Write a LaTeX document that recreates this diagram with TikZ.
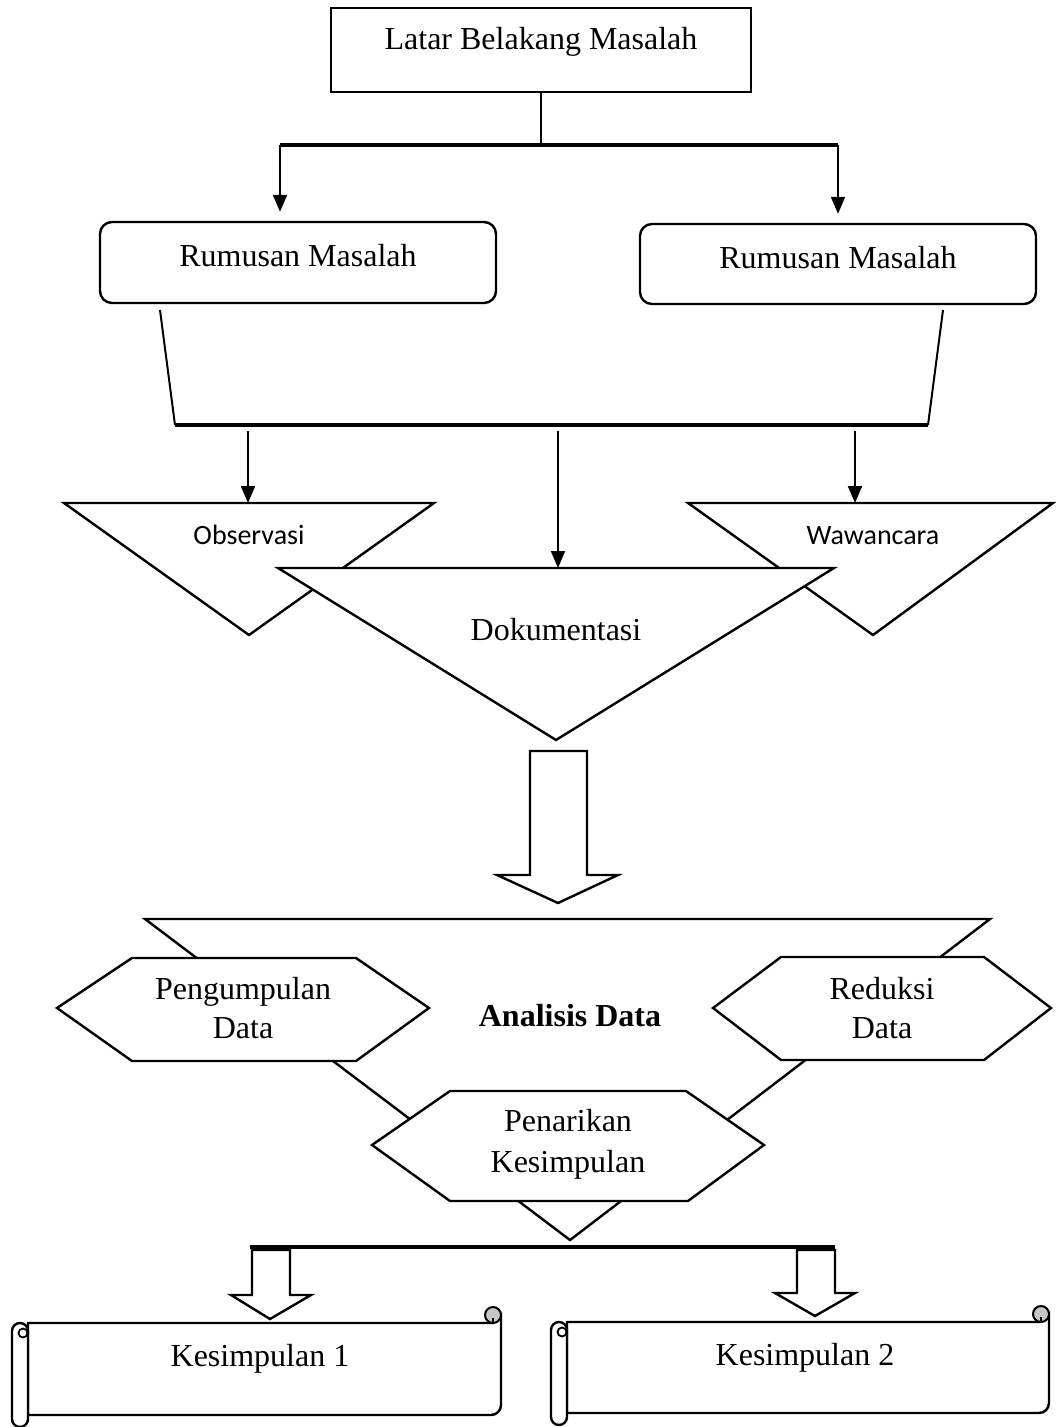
\documentclass[tikz,border=0pt]{standalone}
\usepackage{fontspec}
\setmainfont{Liberation Serif}
\newfontfamily\sansf{Carlito}
\usetikzlibrary{arrows.meta,calc}
\newcommand\myscroll[4]{%
  \draw[shp] (#1,#3) -- (#2-8,#3) -- (#2,#3-8) -- (#2,#4-10)
     arc[start angle=0,end angle=90,radius=10] -- (#1,#4) -- cycle;
  \draw[line width=2pt,fill=gray!45] (#2-8,#3-8) circle (8);
  \draw[line width=1.5pt] (#2-8,#3) -- (#2-8,#3-5);
  \draw[shp] (#1-16,#3+8) -- (#1-16,#4+4)
     arc[start angle=180,end angle=0,radius=8] -- (#1,#3+8)
     arc[start angle=0,end angle=-180,radius=8] -- cycle;
  \draw[line width=1.8pt,fill=white] (#1-5,#3+10) circle (4.5);
}
\begin{document}
\begin{tikzpicture}[x=1pt,y=-1pt,line join=miter,
  every node/.style={font=\fontsize{32}{39}\selectfont},
  ln/.style={line width=2pt},
  bar/.style={line width=3.2pt},
  shp/.style={draw,line width=2.4pt,fill=white},
  arr/.style={line width=2pt,-{Triangle[length=17pt,width=14pt]}},
  txt/.style={align=center,inner sep=0pt,anchor=base},
  boxn/.style={draw,line width=2.4pt,inner sep=0pt,text height=22pt}]
\useasboundingbox (0,0) rectangle (1055,1427);
% top box
\node[boxn,minimum width=420pt,minimum height=84pt,text depth=24pt] (lbm) at (541,50) {Latar Belakang Masalah};
\coordinate (bL) at (280,145);
\coordinate (bR) at (838,145);
\draw[ln] (lbm.south) -- (lbm.south |- bL);
\draw[bar] (bL) -- (bR);
% rumusan boxes
\node[boxn,rounded corners=12pt,minimum width=396pt,minimum height=81pt,text depth=15pt] (rm1) at (298,262.5) {Rumusan Masalah};
\node[boxn,rounded corners=12pt,minimum width=396pt,minimum height=80pt,text depth=14pt] (rm2) at (838,264) {Rumusan Masalah};
\draw[arr,shorten >=9pt] (bL) -- (bL |- rm1.north);
\draw[arr,shorten >=9pt] (bR) -- (bR |- rm2.north);
% merge lines
\coordinate (s1) at (160,310);
\coordinate (s2) at (943,310);
\coordinate (mL) at (175,425);
\coordinate (mR) at (928,425);
\draw[ln] (s1) -- (mL);
\draw[ln] (s2) -- (mR);
\draw[bar] (mL) -- (mR);
% triangles
\coordinate (obsT) at (248,503);
\coordinate (dokT) at (558,568);
\coordinate (wawT) at (855,503);
\draw[shp] (64,503) -- (434,503) -- (249,635) -- cycle;
\draw[shp] (688,503) -- (1053,503) -- (873,635) -- cycle;
\draw[shp] (278,568) -- (834,568) -- (556,740) -- cycle;
\node[txt,font=\sansf\fontsize{28}{34}\selectfont] (obs) at (249,544) {Observasi};
\node[txt,font=\sansf\fontsize{28}{34}\selectfont] (waw) at (873,544) {Wawancara};
\node[txt] (dok) at (556,640) {Dokumentasi};
\draw[arr] (obsT |- mL) ++(0,6) coordinate (a1) (a1) -- (obsT);
\draw[arr] (dokT |- mL) ++(0,6) coordinate (a2) (a2) -- (dokT);
\draw[arr] (wawT |- mL) ++(0,6) coordinate (a3) (a3) -- (wawT);
% block arrow
\draw[shp] (530,751) -- (587,751) -- (587,875) -- (618,875) -- (558,903) -- (497,875) -- (530,875) -- cycle;
% analisis triangle
\draw[shp] (145,919) -- (990,919) -- (570,1240) -- cycle;
\draw[shp] (57,1008) -- (132,958) -- (356,958) -- (429,1008) -- (356,1061) -- (132,1061) -- cycle;
\draw[shp] (713,1008) -- (781,957) -- (984,957) -- (1051,1008) -- (984,1060) -- (781,1060) -- cycle;
\draw[shp] (372,1145) -- (450,1091) -- (686,1091) -- (764,1145) -- (688,1201) -- (450,1201) -- cycle;
\node[txt] (peng) at (243,1038) {Pengumpulan\\Data};
\node[txt] (red) at (882,1038) {Reduksi\\Data};
\node[txt,font=\bfseries\fontsize{32}{39}\selectfont] (ana) at (570,1026) {Analisis Data};
\node[txt,font=\fontsize{32}{41}\selectfont] (pen) at (568,1172) {Penarikan\\Kesimpulan};
% bottom
\coordinate (cL) at (250,1247);
\coordinate (cR) at (835,1247);
\draw[bar] (cL) -- (cR);
\draw[shp] (252,1250) -- (290,1250) -- (290,1295) -- (311,1295) -- (270,1319) -- (231,1295) -- (252,1295) -- cycle;
\draw[shp] (797,1250) -- (835,1250) -- (835,1293) -- (855,1293) -- (815,1316) -- (775,1293) -- (797,1293) -- cycle;
\myscroll{28}{501}{1323}{1415}
\myscroll{567}{1049}{1322}{1413}
\node[txt] (k1) at (260,1366) {Kesimpulan 1};
\node[txt] (k2) at (805,1365) {Kesimpulan 2};
\end{tikzpicture}
\end{document}
